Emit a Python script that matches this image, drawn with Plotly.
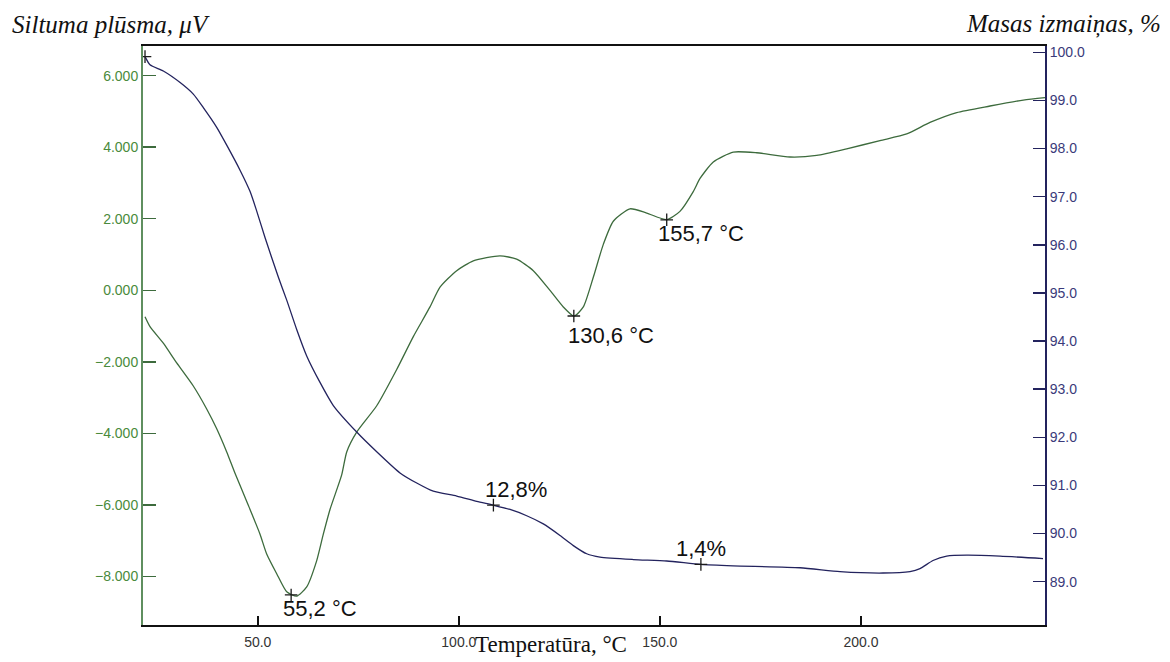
import plotly.graph_objects as go

# ---- data ----
# DSC heat flow (left axis, µV)
dsc_temp = [21.96, 23.20, 26.51, 29.84, 33.97, 37.30, 39.79, 42.28, 44.34, 47.57, 50.56,
            52.22, 54.71, 57.20, 59.68, 62.17, 64.66, 66.30, 67.96, 70.87, 72.12, 74.60,
            79.58, 84.55, 88.68, 92.83, 95.32, 99.47, 103.60, 110.24, 114.39, 118.52,
            122.67, 125.98, 128.64, 130.96, 133.44, 135.93, 138.42, 142.57, 146.72,
            151.70, 154.99, 158.30, 159.98, 163.28, 168.26, 174.08, 182.36, 188.99,
            196.46, 204.74, 211.38, 217.17, 223.81, 232.09, 240.38, 245.77]
dsc_flow = [-0.742, -1.018, -1.48, -2.03, -2.677, -3.32, -3.873, -4.52, -5.117, -5.99, -6.821,
            -7.374, -7.926, -8.432, -8.554, -8.294, -7.559, -6.821, -6.13, -5.163, -4.52, -3.967,
            -3.229, -2.215, -1.295, -0.466, 0.087, 0.548, 0.824, 0.963, 0.869, 0.548,
            -0.004, -0.466, -0.723, -0.466, 0.363, 1.283, 1.930, 2.278, 2.159,
            1.974, 2.206, 2.759, 3.126, 3.588, 3.864, 3.845, 3.726, 3.770,
            3.955, 4.185, 4.370, 4.693, 4.969, 5.152, 5.318, 5.384]

# TG mass change (right axis, %)
tg_temp = [21.96, 23.20, 26.51, 30.69, 33.97, 36.46, 39.79, 42.28, 45.59, 48.07, 49.74,
           51.80, 55.11, 57.20, 59.68, 62.17, 65.48, 68.79, 74.60, 79.58, 85.37, 89.53,
           93.65, 99.47, 104.45, 108.57, 112.73, 116.88, 121.01, 125.16, 128.47, 131.80,
           135.11, 143.39, 151.70, 160.15, 168.18, 184.84, 194.79, 205.48, 212.19,
           214.68, 217.92, 221.33, 226.30, 234.58, 245.28]
tg_mass = [99.91, 99.74, 99.61, 99.37, 99.13, 98.85, 98.44, 98.07, 97.55, 97.11, 96.70,
           96.15, 95.33, 94.85, 94.24, 93.69, 93.14, 92.66, 92.11, 91.70, 91.26, 91.05,
           90.88, 90.78, 90.67, 90.59, 90.50, 90.37, 90.20, 89.96, 89.75, 89.58,
           89.51, 89.46, 89.43, 89.36, 89.33, 89.29, 89.21, 89.18, 89.21,
           89.27, 89.44, 89.53, 89.55, 89.53, 89.48]

# marked points and their labels
dsc_mark_temp = [58.3, 128.6, 151.7]
dsc_mark_flow = [-8.52, -0.72, 1.97]
dsc_mark_text = ["55,2 °C", "130,6 °C", "155,7 °C"]

tg_mark_temp = [21.96, 108.6, 160.2]
tg_mark_mass = [99.91, 90.59, 89.36]
tg_mark_text = ["", "12,8%", "1,4%"]

x_ticks = [50, 100, 150, 200]
left_ticks = [-8, -6, -4, -2, 0, 2, 4, 6]
right_ticks = [89, 90, 91, 92, 93, 94, 95, 96, 97, 98, 99, 100]

GREEN_LINE = "#3d6b3d"
GREEN_TXT = "#4a8a3c"
NAVY_LINE = "#23235e"
NAVY_TXT = "#3a3a7a"

fig = go.Figure()
fig.add_trace(go.Scatter(x=dsc_temp, y=dsc_flow, mode="lines",
                         line=dict(color=GREEN_LINE, width=1.3, shape="spline", smoothing=0.6),
                         yaxis="y", hoverinfo="skip"))
fig.add_trace(go.Scatter(x=tg_temp, y=tg_mass, mode="lines",
                         line=dict(color=NAVY_LINE, width=1.3, shape="spline", smoothing=0.6),
                         yaxis="y2", hoverinfo="skip"))
fig.add_trace(go.Scatter(x=dsc_mark_temp, y=dsc_mark_flow, mode="markers",
                         marker=dict(symbol="cross-thin", size=9, line=dict(color="#1a1a1a", width=1.3)),
                         yaxis="y", hoverinfo="skip"))
fig.add_trace(go.Scatter(x=tg_mark_temp, y=tg_mark_mass, mode="markers",
                         marker=dict(symbol="cross-thin", size=9, line=dict(color="#1a1a1a", width=1.3)),
                         yaxis="y2", hoverinfo="skip"))

label_font = dict(family="Liberation Sans, Arial", size=22, color="#111111")
dsc_shifts = [(29, -14), (37, -19), (34, -14)]
for t, v, s, (dx, dy) in zip(dsc_mark_temp, dsc_mark_flow, dsc_mark_text, dsc_shifts):
    fig.add_annotation(x=t, y=v, xref="x", yref="y", text=s, showarrow=False,
                       xshift=dx, yshift=dy, font=label_font)
tg_shifts = [(0, 0), (23, 16), (0, 16)]
for t, v, s, (dx, dy) in zip(tg_mark_temp, tg_mark_mass, tg_mark_text, tg_shifts):
    if s:
        fig.add_annotation(x=t, y=v, xref="x", yref="y2", text=s, showarrow=False,
                           xshift=dx, yshift=dy, font=label_font)

serif_it = dict(family="Liberation Serif, Times New Roman", size=25, color="#111111")
fig.add_annotation(x=-0.1475, y=1.0375, xref="paper", yref="paper", xanchor="left", yanchor="middle",
                   text="<i>Siltuma plūsma, μV</i>", showarrow=False, font=serif_it)
fig.add_annotation(x=1.1308, y=1.0375, xref="paper", yref="paper", xanchor="right", yanchor="middle",
                   text="<i>Masas izmaiņas, %</i>", showarrow=False, font=serif_it)
fig.add_annotation(x=0.4523, y=-0.033, xref="paper", yref="paper", xanchor="center", yanchor="middle",
                   text="Temperatūra, °C", showarrow=False,
                   font=dict(family="Liberation Serif, Times New Roman", size=23, color="#111111"))

tick_font = dict(family="Liberation Sans, Arial", size=14)
fig.update_layout(
    width=1170, height=662,
    margin=dict(l=143, r=125, t=46, b=30),
    paper_bgcolor="white", plot_bgcolor="white",
    showlegend=False,
    xaxis=dict(range=[21.46, 245.77], tickvals=x_ticks, tickformat=".1f",
               ticks="inside", ticklen=9, tickwidth=1.5, tickcolor="#111111",
               showline=True, linecolor="#111111", linewidth=2, mirror=True,
               showgrid=False, zeroline=False, ticklabelstandoff=3,
               tickfont=dict(tick_font, color="#333333")),
    yaxis=dict(range=[-9.36, 6.83], tickvals=left_ticks, tickformat=".3f",
               ticks="inside", ticklen=13, tickwidth=1.5, tickcolor=GREEN_LINE,
               showline=True, linecolor="#5f8f5f", linewidth=2,
               showgrid=False, zeroline=False,
               tickfont=dict(tick_font, color=GREEN_TXT)),
    yaxis2=dict(range=[88.10, 100.13], tickvals=right_ticks, tickformat=".1f",
                overlaying="y", side="right", anchor="x",
                ticks="inside", ticklen=12, tickwidth=1.5, tickcolor=NAVY_LINE,
                showline=True, linecolor=NAVY_LINE, linewidth=2,
                showgrid=False, zeroline=False,
                tickfont=dict(tick_font, color=NAVY_TXT)),
)

# remove the default page margin so the figure sits at the window's top-left corner
fig.write_html("out.html",
               config={"displayModeBar": False, "staticPlot": True},
               post_script="document.body.style.margin='0';document.body.style.overflow='hidden';")
